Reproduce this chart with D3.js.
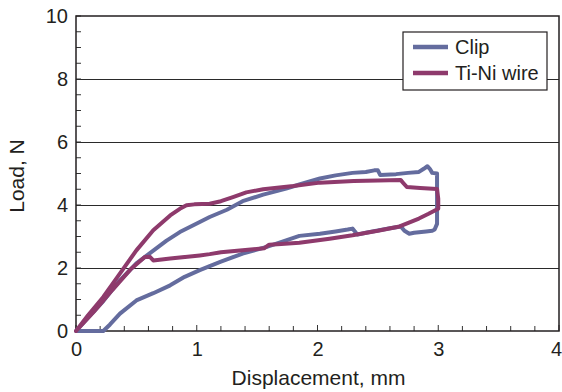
<!DOCTYPE html>
<html>
<head>
<meta charset="utf-8">
<script src="https://cdn.jsdelivr.net/npm/d3@7"></script>
<style>
  body { margin: 0; background: #fff; }
  text { font-family: "Liberation Sans", Arial, sans-serif; fill: #231f20; }
</style>
</head>
<body>
<svg id="chart" width="562" height="392"></svg>
<script>
// Clip: loading then unloading, displacement (mm) / load (N)
var clipDisp = [0, 0.1, 0.226, 0.35, 0.5, 0.64, 0.75, 0.86, 1.025, 1.107, 1.25, 1.38, 1.55, 1.74, 1.85, 2.02, 2.15, 2.29, 2.4, 2.47, 2.5, 2.52, 2.65, 2.75, 2.84, 2.88, 2.91, 2.93, 2.95, 2.99,
                2.99, 2.99, 2.97, 2.95, 2.9, 2.8, 2.76, 2.72, 2.69, 2.6, 2.5, 2.4, 2.33, 2.31, 2.29, 2.25, 2.15, 2.02, 1.85, 1.74, 1.58, 1.38, 1.2, 1.025, 0.9, 0.78, 0.64, 0.5, 0.364, 0.28, 0.226, 0];
var clipLoad = [0, 0.42, 0.95, 1.55, 2.15, 2.55, 2.87, 3.14, 3.46, 3.62, 3.85, 4.12, 4.33, 4.52, 4.65, 4.84, 4.94, 5.02, 5.05, 5.1, 5.1, 4.95, 4.98, 5.02, 5.05, 5.15, 5.23, 5.15, 5.02, 5.0,
                4.4, 3.4, 3.22, 3.18, 3.16, 3.12, 3.09, 3.18, 3.32, 3.26, 3.19, 3.12, 3.06, 3.16, 3.25, 3.22, 3.16, 3.09, 3.02, 2.88, 2.67, 2.46, 2.2, 1.93, 1.72, 1.45, 1.2, 0.97, 0.55, 0.2, 0, 0];

// Ti-Ni wire
var wireDisp = [0, 0.1, 0.226, 0.35, 0.5, 0.64, 0.78, 0.86, 0.915, 0.98, 1.107, 1.2, 1.3, 1.41, 1.55, 1.8, 2.02, 2.3, 2.5, 2.69, 2.71, 2.74, 2.85, 2.99,
                3.0, 3.0, 2.92, 2.84, 2.68, 2.5, 2.29, 2.1, 1.85, 1.7, 1.6, 1.56, 1.38, 1.2, 1.107, 1.025, 0.78, 0.64, 0.61, 0.57, 0.45, 0.3, 0.15, 0];
var wireLoad = [0, 0.5, 1.08, 1.75, 2.56, 3.2, 3.67, 3.88, 3.99, 4.02, 4.04, 4.12, 4.25, 4.4, 4.5, 4.6, 4.71, 4.76, 4.78, 4.79, 4.7, 4.57, 4.54, 4.51,
                4.2, 3.88, 3.72, 3.57, 3.32, 3.18, 3.04, 2.93, 2.8, 2.76, 2.74, 2.63, 2.56, 2.5, 2.44, 2.4, 2.3, 2.24, 2.36, 2.35, 1.95, 1.3, 0.62, 0];

var xTicks = [0, 1, 2, 3, 4];
var yTicks = [0, 2, 4, 6, 8, 10];
var seriesNames = ["Clip", "Ti-Ni wire"];
var seriesColors = ["#646c9e", "#8e3a6c"];

var svg = d3.select("#chart");
var margin = {top: 16, right: 3, bottom: 61, left: 76};
var width = 562 - margin.left - margin.right,
    height = 392 - margin.top - margin.bottom;

var g = svg.append("g").attr("transform", "translate(" + margin.left + "," + margin.top + ")");

var x = d3.scaleLinear().domain([0, 4]).range([0, width]);
var y = d3.scaleLinear().domain([0, 10]).range([height, 0]);

// gridlines
g.append("g")
    .attr("transform", "translate(0,0.5)")
    .selectAll("line")
    .data([2, 4, 6, 8])
  .enter().append("line")
    .attr("x1", 0).attr("x2", width)
    .attr("y1", d => Math.round(y(d))).attr("y2", d => Math.round(y(d)))
    .attr("stroke", "#2a2a2a").attr("stroke-width", 1);

// minor ticks (inside)
g.append("g")
    .selectAll("line")
    .data(d3.range(0, 4.001, 0.2))
  .enter().append("line")
    .attr("x1", d => x(d)).attr("x2", d => x(d))
    .attr("y1", height).attr("y2", d => height - (Math.abs(d - Math.round(d)) < 1e-6 ? 6 : 5))
    .attr("stroke", "#333");
g.append("g")
    .selectAll("line")
    .data(d3.range(0, 10.001, 0.5))
  .enter().append("line")
    .attr("y1", d => y(d)).attr("y2", d => y(d))
    .attr("x1", 0).attr("x2", 5)
    .attr("stroke", "#333");

// axes labels
var xAxis = g.append("g")
    .attr("transform", "translate(0," + height + ")")
    .call(d3.axisBottom(x).tickValues(xTicks).tickSize(0).tickPadding(11).tickFormat(d3.format("d")));
xAxis.select(".domain").remove();
xAxis.selectAll("text").style("font-size", "20px").attr("fill", "#231f20")
    .attr("dx", d => d === 4 ? -3 : 0);   // keep the last label inside the page

var yAxis = g.append("g")
    .call(d3.axisLeft(y).tickValues(yTicks).tickSize(0).tickPadding(8).tickFormat(d3.format("d")));
yAxis.select(".domain").remove();
yAxis.selectAll("text").style("font-size", "20px").attr("fill", "#231f20");

// frame
g.append("rect")
    .attr("width", width).attr("height", height)
    .attr("fill", "none").attr("stroke", "#231f20").attr("stroke-width", 1.5);

// curves
var line = d3.line()
    .x(d => x(d[0]))
    .y(d => y(d[1]));

var series = [d3.zip(clipDisp, clipLoad), d3.zip(wireDisp, wireLoad)];

g.selectAll(".curve")
    .data(series)
  .enter().append("path")
    .attr("class", "curve")
    .attr("fill", "none")
    .attr("stroke", (d, i) => seriesColors[i])
    .attr("stroke-width", 4)
    .attr("stroke-linejoin", "round")
    .attr("stroke-linecap", "round")
    .attr("d", line);

// legend
var legend = g.append("g").attr("transform", "translate(" + (403 - margin.left) + "," + (32 - margin.top) + ")");
legend.append("rect")
    .attr("width", 144).attr("height", 58)
    .attr("fill", "#fff").attr("stroke", "#231f20").attr("stroke-width", 1.2);
var item = legend.selectAll(".item")
    .data(seriesNames)
  .enter().append("g")
    .attr("transform", (d, i) => "translate(0," + (15 + i * 26) + ")");
item.append("line")
    .attr("x1", 10).attr("x2", 45)
    .attr("stroke", (d, i) => seriesColors[i]).attr("stroke-width", 4.5);
item.append("text")
    .attr("x", 52).attr("dy", "0.35em")
    .style("font-size", "20px")
    .text(d => d);

// axis titles
svg.append("text")
    .attr("x", margin.left + width / 2 + 1).attr("y", 385)
    .attr("text-anchor", "middle")
    .style("font-size", "21px")
    .text("Displacement, mm");
svg.append("text")
    .attr("transform", "translate(24," + 176 + ") rotate(-90)")
    .attr("text-anchor", "middle")
    .style("font-size", "21px")
    .text("Load, N");
</script>
</body>
</html>
